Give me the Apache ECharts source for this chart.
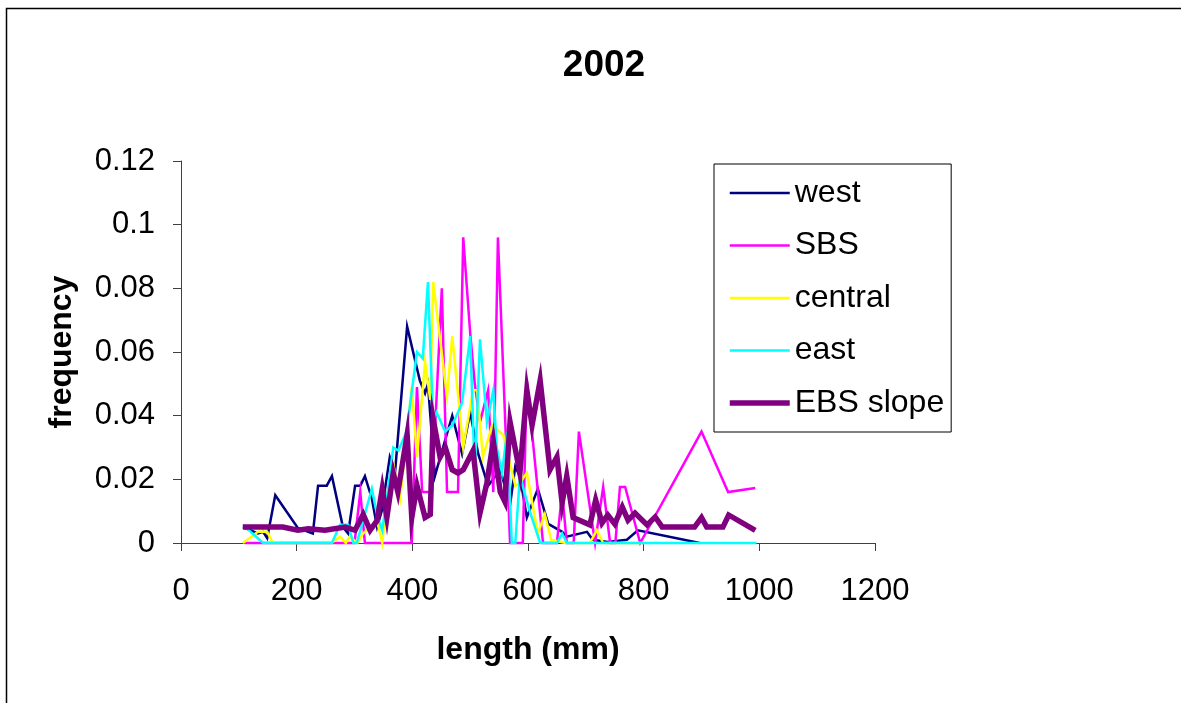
<!DOCTYPE html>
<html>
<head>
<meta charset="utf-8">
<script src="https://cdn.jsdelivr.net/npm/echarts@6/dist/echarts.min.js"></script>
<style>
  html, body { margin: 0; padding: 0; background: #ffffff; }
  #chart { width: 1181px; height: 703px; }
</style>
</head>
<body>
<div id="chart"></div>
<script>
// Length-frequency distributions by region, 2002
const chartTitle = '2002';
const seriesNames = ['west', 'SBS', 'central', 'east', 'EBS slope'];
const xTicks = [0, 200, 400, 600, 800, 1000, 1200];
const yTicks = [0, 0.02, 0.04, 0.06, 0.08, 0.1, 0.12];

const westLen  = [107, 133, 142, 149, 163, 202, 228, 237, 252, 261, 280, 289, 301, 310, 318, 330, 339, 347, 361, 370, 391, 413, 422, 427, 439, 453, 469, 486, 500, 514, 531, 552, 569, 578, 586, 598, 617, 635, 659, 667, 702, 712, 738, 771, 790, 897];
const westFreq = [0.005, 0.003, 0.0035, 0.0015, 0.015, 0.0047, 0.003, 0.018, 0.018, 0.021, 0.005, 0.003, 0.018, 0.018, 0.021, 0.014, 0.005, 0.01, 0.027, 0.022, 0.068, 0.051, 0.047, 0.05, 0.021, 0.030, 0.040, 0.028, 0.041, 0.028, 0.018, 0.023, 0.012, 0.024, 0.021, 0.008, 0.017, 0.006, 0.0035, 0.002, 0.0035, 0.001, 0.0003, 0.001, 0.004, 0];

const sbsLen  = [110, 300, 310, 318, 399, 408, 417, 434, 451, 460, 479, 488, 500, 508, 517, 531, 540, 548, 569, 591, 598, 626, 650, 659, 667, 679, 688, 716, 730, 742, 751, 759, 768, 794, 900, 946, 993];
const sbsFreq = [0, 0, 0.016, 0, 0, 0.049, 0.016, 0.016, 0.080, 0.016, 0.016, 0.096, 0.066, 0.05, 0.038, 0.048, 0.016, 0.096, 0, 0, 0.051, 0, 0, 0.016, 0, 0, 0.035, 0, 0.0176, 0, 0, 0.0176, 0.0176, 0, 0.035, 0.016, 0.0173];

const centralLen  = [107, 133, 149, 159, 260, 275, 285, 292, 305, 315, 327, 339, 348, 357, 368, 379, 399, 408, 422, 431, 436, 460, 469, 488, 505, 512, 522, 538, 557, 578, 586, 598, 617, 629, 640, 665, 707, 719, 730, 800];
const centralFreq = [0, 0.0035, 0.0035, 0, 0, 0.002, 0, 0.002, 0, 0.003, 0.005, 0.007, 0, 0.016, 0.024, 0.014, 0.049, 0.027, 0.057, 0.045, 0.082, 0.046, 0.065, 0.030, 0.048, 0.048, 0.027, 0.037, 0.034, 0.018, 0.019, 0.022, 0.003, 0.009, 0.001, 0, 0, 0.004, 0, 0];

const eastLen  = [107, 142, 261, 275, 289, 298, 304, 330, 340, 348, 358, 367, 376, 390, 408, 418, 427, 436, 442, 457, 469, 486, 500, 508, 517, 529, 540, 546, 555, 564, 572, 578, 586, 603, 621, 650, 659, 667, 995];
const eastFreq = [0.0057, 0, 0, 0.0057, 0.0057, 0, 0, 0.017, 0.008, 0.004, 0.017, 0.030, 0.029, 0.035, 0.060, 0.058, 0.082, 0.038, 0.041, 0.035, 0.037, 0.044, 0.065, 0.021, 0.064, 0.038, 0.048, 0.030, 0.022, 0.035, 0, 0, 0.021, 0.010, 0, 0, 0.003, 0, 0];

const ebsLen  = [107, 176, 202, 220, 249, 284, 301, 315, 327, 339, 348, 356, 367, 375, 391, 399, 408, 422, 431, 436, 448, 457, 469, 479, 488, 505, 517, 529, 540, 552, 560, 569, 586, 598, 607, 621, 638, 650, 659, 667, 678, 707, 717, 728, 738, 750, 763, 773, 785, 806, 820, 832, 863, 888, 900, 909, 937, 947, 993];
const ebsFreq = [0.005, 0.005, 0.004, 0.0045, 0.004, 0.005, 0.004, 0.009, 0.004, 0.007, 0.017, 0.008, 0.022, 0.016, 0.034, 0.008, 0.018, 0.008, 0.009, 0.039, 0.027, 0.030, 0.023, 0.022, 0.023, 0.029, 0.0094, 0.019, 0.032, 0.016, 0.013, 0.038, 0.022, 0.048, 0.037, 0.051, 0.023, 0.027, 0.0126, 0.021, 0.008, 0.0057, 0.0135, 0.0063, 0.0088, 0.006, 0.0113, 0.0072, 0.0094, 0.0057, 0.0082, 0.005, 0.005, 0.005, 0.008, 0.005, 0.005, 0.0088, 0.004];

const seriesColors = ['#000080', '#ff00ff', '#ffff00', '#00ffff', '#800080'];
const seriesWidths = [2.5, 2.5, 2.5, 2.5, 5.5];

function pairs(xs, ys) { return xs.map((x, i) => [x, ys[i]]); }
const seriesData = [
  pairs(westLen, westFreq),
  pairs(sbsLen, sbsFreq),
  pairs(centralLen, centralFreq),
  pairs(eastLen, eastFreq),
  pairs(ebsLen, ebsFreq)
];

const FONT = 'Liberation Sans, Arial, sans-serif';
const axisColor = '#404040';

const chart = echarts.init(document.getElementById('chart'), null, { renderer: 'canvas' });
chart.setOption({
  animation: false,
  backgroundColor: '#ffffff',
  title: {
    text: chartTitle,
    left: 599,
    top: 42,
    textAlign: 'center',
    textStyle: { fontFamily: FONT, fontSize: 37, fontWeight: 'bold', color: '#000' }
  },
  graphic: [{
    type: 'rect',
    shape: { x: 6.5, y: 8.5, width: 1300, height: 800 },
    style: { fill: 'none', stroke: '#000', lineWidth: 1.5 },
    silent: true
  }],
  legend: {
    orient: 'vertical',
    left: 714,
    top: 164,
    padding: [13, 7, 13, 13],
    itemWidth: 60,
    itemHeight: 28,
    itemGap: 20.5,
    borderColor: '#000',
    borderWidth: 1,
    backgroundColor: '#fff',
    itemStyle: { opacity: 0 },
    lineStyle: { width: 'inherit' },
    textStyle: { fontFamily: FONT, fontSize: 32, color: '#000', lineHeight: 28, padding: [0, 0, 0, 0] },
    data: seriesNames
  },
  grid: { left: 181, top: 161, right: 306, bottom: 160, containLabel: false },
  xAxis: {
    type: 'value',
    min: xTicks[0],
    max: xTicks[xTicks.length - 1],
    interval: xTicks[1] - xTicks[0],
    name: 'length (mm)',
    nameLocation: 'middle',
    nameGap: 91,
    nameTextStyle: { fontFamily: FONT, fontSize: 32, fontWeight: 'bold', color: '#000' },
    axisLine: { lineStyle: { color: axisColor, width: 1 } },
    axisTick: { show: true, inside: false, length: 8, lineStyle: { color: axisColor } },
    axisLabel: { fontFamily: FONT, fontSize: 31, color: '#000', margin: 33, formatter: v => String(v) },
    splitLine: { show: false }
  },
  yAxis: {
    type: 'value',
    min: yTicks[0],
    max: yTicks[yTicks.length - 1],
    interval: yTicks[1] - yTicks[0],
    name: 'frequency',
    nameLocation: 'middle',
    nameGap: 103,
    nameRotate: 90,
    nameTextStyle: { fontFamily: FONT, fontSize: 32, fontWeight: 'bold', color: '#000' },
    axisLine: { show: true, lineStyle: { color: axisColor, width: 1 } },
    axisTick: { show: true, inside: false, length: 8, lineStyle: { color: axisColor } },
    axisLabel: {
      fontFamily: FONT, fontSize: 31, color: '#000', margin: 26,
      formatter: v => String(Math.round(v * 100) / 100)
    },
    splitLine: { show: false }
  },
  series: seriesNames.map((name, i) => ({
    name: name,
    type: 'line',
    data: seriesData[i],
    showSymbol: false,
    symbol: 'none',
    color: seriesColors[i],
    lineStyle: { color: seriesColors[i], width: seriesWidths[i], join: 'miter' },
    clip: false,
    z: 2 + i
  }))
});
</script>
</body>
</html>
